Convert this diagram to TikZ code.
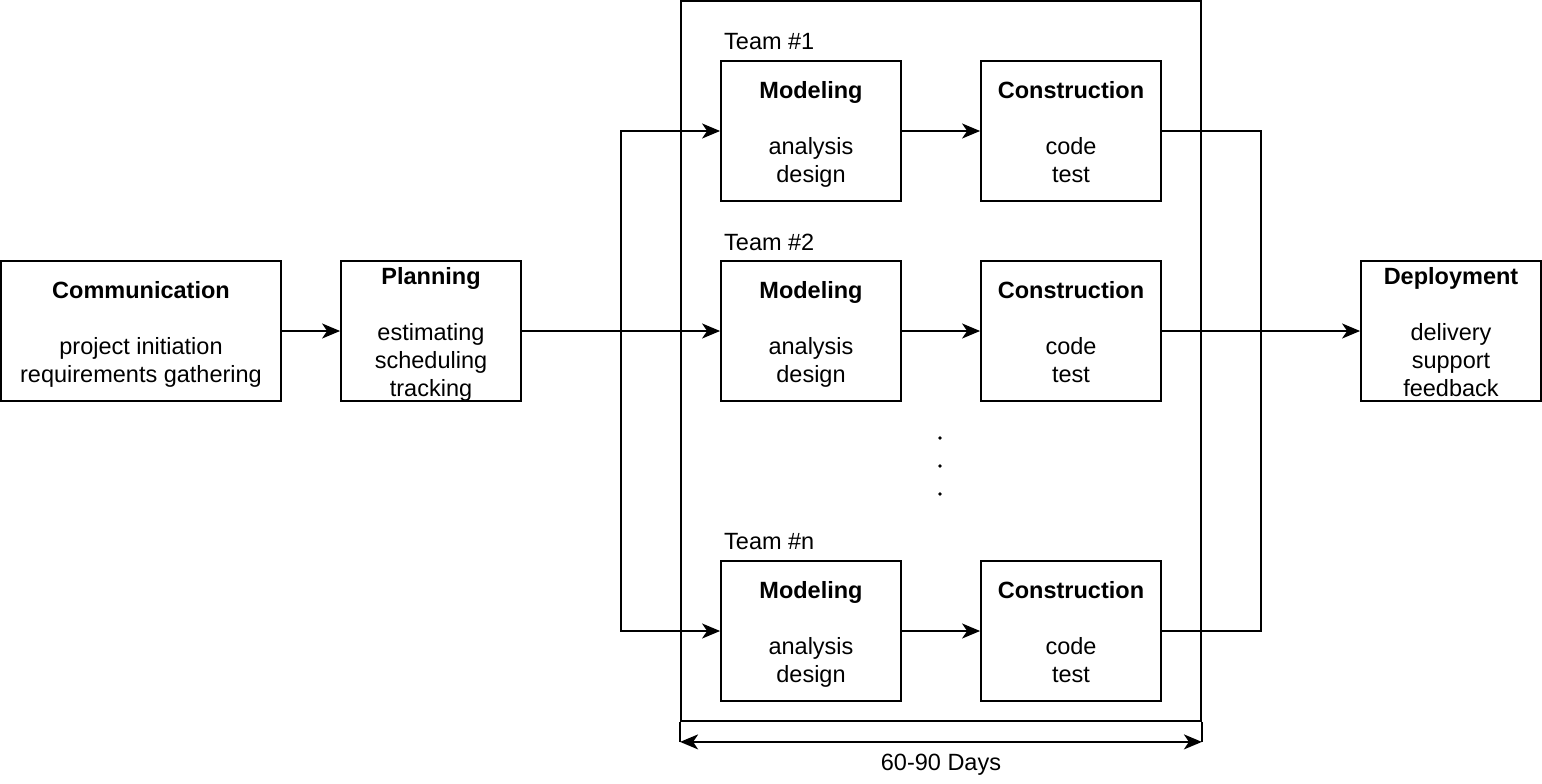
\documentclass[tikz,border=0pt]{standalone}
\usepackage{fontspec}
\setmainfont{Liberation Sans}
\usetikzlibrary{arrows.meta}

\newcommand{\headstrut}{\rule{0pt}{27.6pt}}

\tikzset{
  stage/.style={draw, line width=1.8pt, align=center, inner sep=0pt,
    font=\fontsize{23.5}{28}\selectfont},
  wide/.style={minimum width=280pt, minimum height=140pt},
  narrow/.style={minimum width=180pt, minimum height=140pt},
  tight/.style={inner ysep=-4pt},
  flow/.style={line width=1.8pt, -{Stealth[length=18pt,width=15pt,inset=5pt]}},
  link/.style={line width=1.8pt},
  teamlabel/.style={anchor=west, inner sep=0pt, font=\fontsize{23.5}{28}\selectfont},
}

\begin{document}
\begin{tikzpicture}[x=1pt,y=-1pt]
   \useasboundingbox (0,0) rectangle (1542,784);

   % sprint frame
   \node[draw, line width=1.8pt, minimum width=520pt, minimum height=720pt, inner sep=0pt] (sprint) at (941,361) {};
   \draw[link] (sprint.south west) -- ++(0,20) coordinate (tickL);
   \draw[link] (sprint.south east) -- ++(0,20) coordinate (tickR);
   \draw[line width=1.8pt, {Stealth[length=18pt,width=15pt,inset=5pt]}-{Stealth[length=18pt,width=15pt,inset=5pt]}]
      (tickL) -- (tickR) node[midway, below=11pt, inner sep=0pt, font=\fontsize{23.5}{28}\selectfont] (days) {60-90 Days};

   \node[stage, wide] (comm) at (141,331) {\headstrut\textbf{Communication}\\[28pt]project initiation\\requirements gathering\strut};
   \node[stage, narrow, tight] (plan) at (431,331) {\headstrut\textbf{Planning}\\[28pt]estimating\\scheduling\\tracking\strut};
   \node[stage, narrow, tight] (dep) at (1451,331) {\headstrut\textbf{Deployment}\\[28pt]delivery\\support\\feedback\strut};

   \foreach \y/\t in {131/1, 331/2, 631/n} {
      \node[teamlabel] (team\t) at (724,\y-89) {Team \#\t};
      \node[stage, narrow] (mod\t) at (811,\y) {\headstrut\textbf{Modeling}\\[28pt]analysis\\design\strut};
      \node[stage, narrow] (con\t) at (1071,\y) {\headstrut\textbf{Construction}\\[28pt]code\\test\strut};
      \draw[flow] (mod\t) -- (con\t);
   }

   \foreach \y in {438,466,494}
      \fill (940,\y) circle (1.8pt);

   \coordinate (split) at (621,331);
   \coordinate (merge) at (1261,331);

   \draw[flow] (comm) -- (plan);
   \draw[flow] (plan) -- (mod2);
   \draw[flow] (split) |- (mod1.west);
   \draw[flow] (split) |- (modn.west);
   \draw[link] (con1.east) -| (merge);
   \draw[link] (conn.east) -| (merge);
   \draw[flow] (con2) -- (dep);

 \end{tikzpicture}
\end{document}
